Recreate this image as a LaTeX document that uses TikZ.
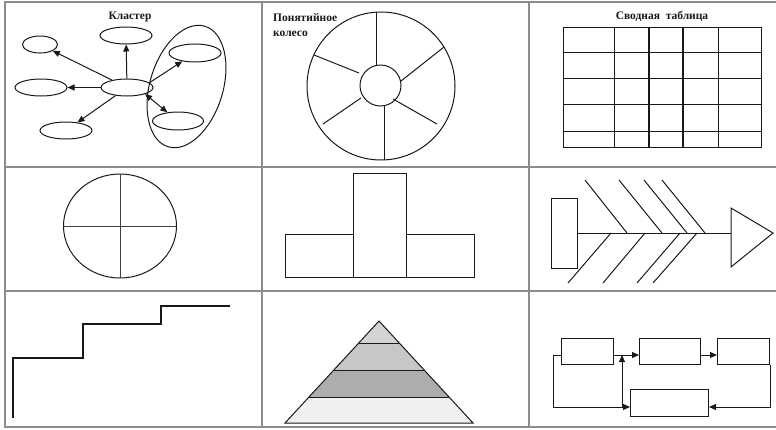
\documentclass[tikz,border=0pt]{standalone}
\usepackage{fontspec}
\setmainfont{Liberation Serif}
\usetikzlibrary{shapes.geometric,arrows.meta}
\begin{document}
\begin{tikzpicture}[x=1pt,y=-1pt,
  frame/.style={draw=black!45,line width=1.3pt},
  ln/.style={draw=black!90,line width=1pt},
  thin/.style={draw=black!75,line width=0.7pt},
  ell/.style={ellipse,draw=black!90,line width=1pt,inner sep=0pt,minimum width=52pt,minimum height=17pt},
  arr/.style={draw=black!90,line width=1pt,-{Triangle[length=7pt,width=6pt]}},
  darr/.style={draw=black!90,line width=1pt,{Triangle[length=7pt,width=6pt]}-{Triangle[length=7pt,width=6pt]}},
  box/.style={draw=black!90,line width=1pt,inner sep=0pt,anchor=north west},
  title/.style={font=\fontsize{11.5}{12}\selectfont\bfseries,inner sep=0pt,text=black!90}
]
\useasboundingbox (0,0) rectangle (776,429);
% frame
\draw[frame] (776,2) -- (5,2) -- (5,427) -- (776,427);
\draw[frame] (5,167) -- (776,167);
\draw[frame] (5,291) -- (776,291);
\draw[frame] (262,2) -- (262,427);
\draw[frame] (529,2) -- (529,427);

% cell 1: cluster
\node[title,anchor=base] (t1) at (130,19) {Кластер};
\node[ell] (c) at (127,87.5) {};
\node[ell] (top) at (126,35.5) {};
\node[ell,minimum width=35pt] (ul) at (40,44.5) {};
\node[ell] (l) at (41,87.5) {};
\node[ell] (ll) at (66,130.5) {};
\node[ell,minimum height=18pt] (ur) at (195,53) {};
\node[ell,minimum height=18pt,minimum width=51pt] (lr) at (178,121) {};
\node[ellipse,draw=black!90,line width=1pt,inner sep=0pt,minimum width=126pt,minimum height=73pt,rotate=73] (big) at (186.5,86.5) {};
\draw[arr] (c) -- (top);
\draw[arr] (c) -- (ul);
\draw[arr] (c) -- (l);
\draw[arr] (c) -- (ll);
\draw[arr] (c.12) -- (ur);
\draw[darr] (c.-20) -- (lr);

% cell 2: wheel
\node[title,anchor=base west] (t2a) at (273,21) {Понятийное};
\node[title,anchor=base west] (t2b) at (273,36) {колесо};
\draw[ln] (381,86) circle[radius=74pt];
\draw[ln] (380.5,85.5) circle[radius=20.5pt];
\draw[ln] (376,12) -- (376,65);
\draw[ln] (384,106) -- (384,160);
\draw[ln] (401,81) -- (444,47);
\draw[ln] (359,73) -- (314,55);
\draw[ln] (361,98) -- (323,124);
\draw[ln] (393,99) -- (437,124);

% cell 3: table
\node[title,anchor=base] (t3) at (662,19) {Сводная\ \ таблица};
\draw[ln] (563,27) rectangle (761,147);
\foreach \yy in {52,78,104,131} \draw[ln] (563,\yy) -- (761,\yy);
\foreach \xx in {614,718} \draw[ln] (\xx,27) -- (\xx,147);
\foreach \xx in {649,683} \draw[ln,line width=2.6pt] (\xx,27) -- (\xx,147);

% cell 4: circle with cross
\draw[ln] (120,226) ellipse[x radius=56.5pt,y radius=52pt];
\draw[thin] (64,226) -- (176,226);
\draw[thin] (120,174) -- (120,278);

% cell 5: podium
\draw[ln] (353,173) rectangle (406,277);
\draw[ln] (285,234) rectangle (353,277);
\draw[ln] (406,234) rectangle (474,277);

% cell 6: fishbone
\draw[ln] (551,198) rectangle (577,268);
\draw[ln] (577,233) -- (731,233);
\draw[ln] (731,208) -- (773,233) -- (731,267) -- cycle;
\draw[ln] (585,180) -- (627,233);
\draw[ln] (619,180) -- (662,233);
\draw[ln] (644,180) -- (687,233);
\draw[ln] (662,180) -- (705,233);
\draw[ln] (611,233) -- (568,283);
\draw[ln] (645,233) -- (603,283);
\draw[ln] (680,233) -- (637,283);
\draw[ln] (697,233) -- (653,283);

% cell 7: stairs
\draw[ln,line width=1.2pt] (13,418) -- (13,358) -- (83,358) -- (83,324) -- (161,324) -- (161,306) -- (230,306);

% cell 8: pyramid
\begin{scope}
\clip (379,321) -- (473,423) -- (285,423) -- cycle;
\fill[black!17] (280,318) rectangle (480,343);
\fill[black!22] (280,343) rectangle (480,370);
\fill[black!32] (280,370) rectangle (480,397);
\fill[black!6] (280,397) rectangle (480,425);
\end{scope}
\draw[ln] (379,321) -- (473,423) -- (285,423) -- cycle;
\draw[ln] (358.7,343) -- (399.3,343);
\draw[ln] (333.8,370) -- (424.2,370);
\draw[ln] (309,397) -- (449,397);

% cell 9: flow
\node[box,minimum width=52pt,minimum height=26pt] (b1) at (561,338) {};
\node[box,minimum width=61pt,minimum height=26pt] (b2) at (639,338) {};
\node[box,minimum width=52pt,minimum height=26pt] (b3) at (717,338) {};
\node[box,minimum width=78pt,minimum height=27pt] (b4) at (630,389) {};
\coordinate (ay) at (600,355);
\coordinate (by) at (600,407);
\coordinate (lx) at (553,380);
\coordinate (vx) at (622,380);
\draw[arr] (b1.east |- ay) -- (b2.west |- ay);
\draw[arr] (b2.east |- ay) -- (b3.west |- ay);
\draw[arr] (b1.west |- ay) -- (lx |- ay) -- (lx |- by) -- (b4.west |- by);
\draw[arr] (vx |- by) -- (vx |- ay);
\draw[arr] (b3.south east) -- (b3.south east |- by) -- (b4.east |- by);
\end{tikzpicture}
\end{document}
